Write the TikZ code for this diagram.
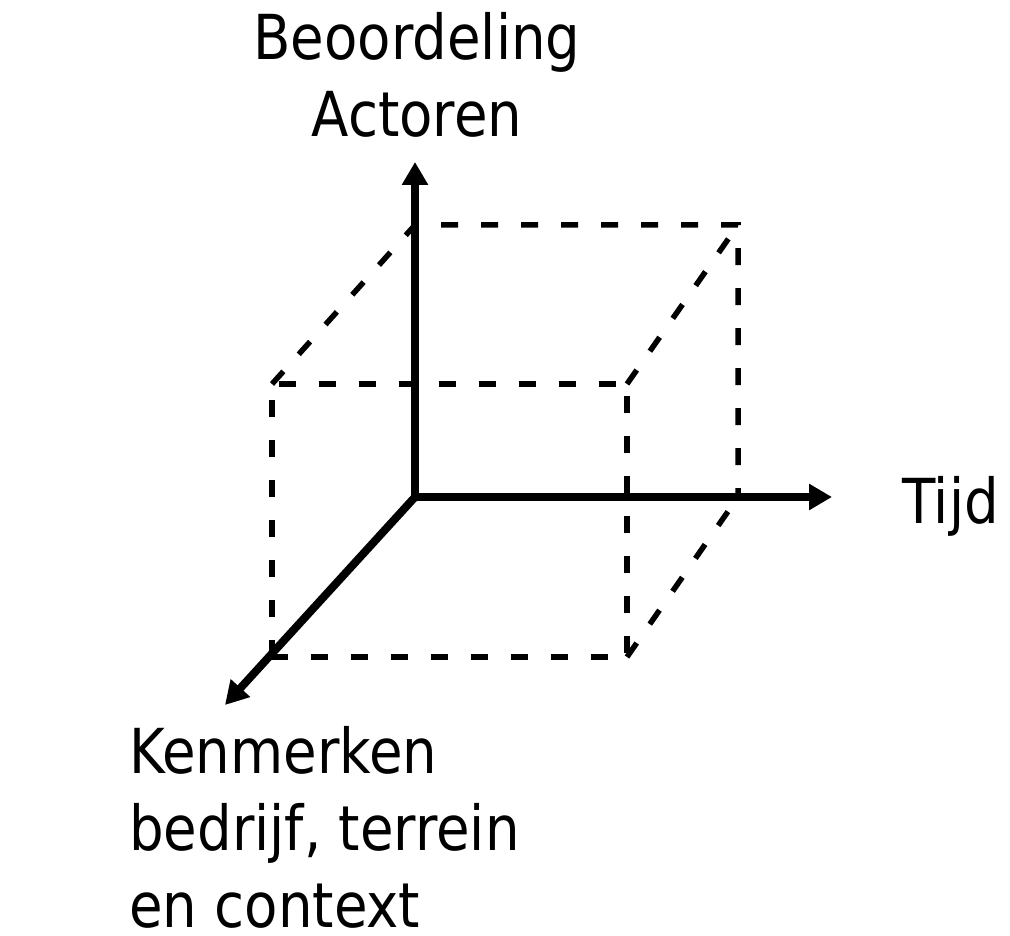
\documentclass[tikz,border=0pt]{standalone}
\usepackage{fontspec}
\setmainfont{DejaVu Sans}[FakeStretch=0.88]
\usetikzlibrary{arrows.meta}

\begin{document}
\begin{tikzpicture}[x=1pt, y=-1pt,
  axis/.style={line width=8pt, -{Triangle[length=23pt, width=25pt]}},
  rib/.style={line width=5.5pt, dash pattern=on 17pt off 23pt},
  lbl/.style={font=\fontsize{62}{77}\selectfont, inner sep=0pt},
]
\useasboundingbox (0,0) rectangle (1010,936);

% kubus
\coordinate (fa) at (272,384);
\coordinate (fb) at (627,384);
\coordinate (fc) at (627,657);
\coordinate (fd) at (272,657);
\coordinate (ba) at (415,225);
\coordinate (bb) at (738,225);
\coordinate (bc) at (738,497);
\draw[rib] (fd) -- (fa) -- (fb) -- (fc) -- (fd);
\draw[rib] (fa) -- (ba) -- (bb) -- (bc);
\draw[rib] (fb) -- (bb);
\draw[rib] (fc) -- (bc);

% assen
\coordinate (o) at (415,497);
\coordinate (tijd) at (832,497);
\coordinate (act) at (415,162);
\coordinate (kenm) at (225,705);
\draw[axis] (o) -- (act);
\draw[axis] (o) -- (tijd);
\draw[axis] (o) -- (kenm);

\node[lbl, align=center, anchor=base] (beoord) at (417,137) {Beoordeling\\Actoren};
\node[lbl, anchor=base west] (tijdlbl) at (902,523) {Tijd};
\node[lbl, align=left, anchor=base west] (kenmlbl) at (129,927) {Kenmerken\\bedrijf, terrein\\en context};
\end{tikzpicture}
\end{document}
